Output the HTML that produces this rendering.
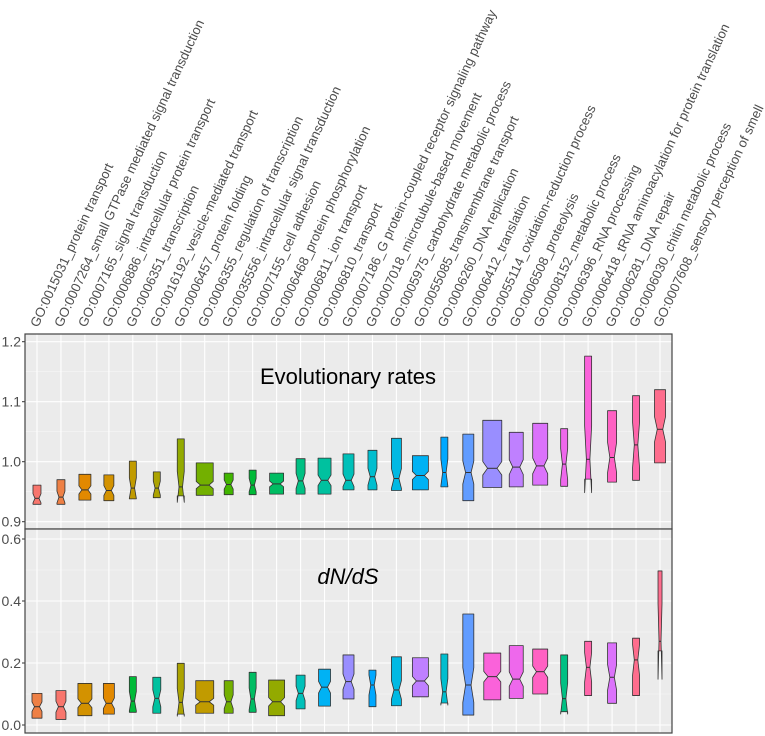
<!DOCTYPE html>
<html><head><meta charset="utf-8"><style>
html,body{margin:0;padding:0;background:#fff;}
svg{display:block;font-family:"Liberation Sans",Arial,sans-serif;}
</style></head><body>
<svg id="chart" width="765" height="736" viewBox="0 0 765 736"></svg>
<script>
const categories=["GO:0015031_protein transport","GO:0007264_small GTPase mediated signal transduction","GO:0007165_signal transduction","GO:0006886_intracellular protein transport","GO:0006351_transcription","GO:0016192_vesicle-mediated transport","GO:0006457_protein folding","GO:0006355_regulation of transcription","GO:0035556_intracellular signal transduction","GO:0007155_cell adhesion","GO:0006468_protein phosphorylation","GO:0006811_ion transport","GO:0006810_transport","GO:0007186_G protein-coupled receptor signaling pathway","GO:0007018_microtubule-based movement","GO:0005975_carbohydrate metabolic process","GO:0055085_transmembrane transport","GO:0006260_DNA replication","GO:0006412_translation","GO:0055114_oxidation-reduction process","GO:0006508_proteolysis","GO:0008152_metabolic process","GO:0006396_RNA processing","GO:0006418_tRNA aminoacylation for protein translation","GO:0006281_DNA repair","GO:0006030_chitin metabolic process","GO:0007608_sensory perception of smell"];
// Evolutionary rates panel
const rateQ1=[0.929,0.929,0.936,0.935,0.938,0.940,0.943,0.944,0.945,0.945,0.946,0.946,0.946,0.953,0.953,0.952,0.953,0.958,0.935,0.957,0.958,0.961,0.959,0.971,0.966,0.969,0.998];
const rateMed=[0.939,0.941,0.953,0.952,0.956,0.956,0.958,0.961,0.962,0.961,0.963,0.968,0.969,0.969,0.975,0.972,0.977,0.982,0.982,0.989,0.991,0.993,0.996,1.004,1.007,1.028,1.054];
const rateQ3=[0.961,0.970,0.979,0.978,1.001,0.983,1.038,0.998,0.981,0.986,0.981,1.005,1.006,1.013,1.019,1.039,1.010,1.041,1.046,1.069,1.049,1.064,1.055,1.176,1.085,1.110,1.120];
const rateWidth=[8,8,12,10,7,7,7,17,9,7,14,9,13,11,9,10,16,7,11,19,14,15,7,7,9,7,11];
const rateColor=[0,1,2,3,4,5,6,7,8,9,10,11,12,13,14,15,16,17,18,19,20,21,22,23,24,25,26];
// dN/dS panel
const dnQ1=[0.022,0.018,0.030,0.035,0.041,0.038,0.035,0.038,0.038,0.041,0.030,0.052,0.061,0.084,0.059,0.062,0.091,0.071,0.032,0.081,0.086,0.100,0.043,0.095,0.070,0.095,0.239];
const dnMed=[0.059,0.059,0.070,0.070,0.077,0.086,0.073,0.075,0.075,0.084,0.075,0.102,0.122,0.140,0.129,0.113,0.142,0.107,0.129,0.156,0.148,0.172,0.085,0.186,0.154,0.210,0.270];
const dnQ3=[0.102,0.111,0.134,0.134,0.156,0.154,0.199,0.143,0.143,0.170,0.145,0.161,0.180,0.226,0.177,0.220,0.217,0.229,0.358,0.232,0.256,0.245,0.226,0.270,0.265,0.280,0.497];
const dnWidth=[10,10,14,11,7,8,7,18,9,7,16,9,12,11,7,10,16,7,11,17,14,15,7,7,9,7,4];
const dnColor=[1,0,3,2,9,12,5,4,7,10,6,13,16,19,17,15,20,14,18,23,22,24,11,25,21,26,26];
const rateTicks=[0.9,1.0,1.1,1.2];
const rateTickLabels=["0.9","1.0","1.1","1.2"];
const rateMinor=[0.95,1.05,1.15];
const dnTicks=[0.0,0.2,0.4,0.6];
const dnTickLabels=["0.0","0.2","0.4","0.6"];
const dnMinor=[0.1,0.3,0.5];

const NS="http://www.w3.org/2000/svg";
const svg=document.getElementById('chart');
const PL=25,PR=672,TOP1=334,BOT1=529,TOP2=529,BOT2=733;
const band=(PR-PL)/categories.length;
function xPos(i){return PL+band*(i+0.5);}
function yRate(v){return 461.7-(v-1)*600;}
function yDn(v){return 725-v*310;}
function mk(tag,attrs,parent){const e=document.createElementNS(NS,tag);for(const k in attrs)e.setAttribute(k,attrs[k]);(parent||svg).appendChild(e);return e;}

function hcl(h,c,l){
  const hr=h*Math.PI/180;const U=c*Math.cos(hr),V=c*Math.sin(hr);
  const Xn=95.047,Yn=100,Zn=108.883;
  const un=4*Xn/(Xn+15*Yn+3*Zn),vn=9*Yn/(Xn+15*Yn+3*Zn);
  const Y=l>8?Yn*Math.pow((l+16)/116,3):Yn*l/903.3;
  const u=U/(13*l)+un,v=V/(13*l)+vn;
  const X=9*Y*u/(4*v),Z=-X/3-5*Y+3*Y/v;
  const x=X/100,y=Y/100,z=Z/100;
  let r=3.2406*x-1.5372*y-0.4986*z,g=-0.9689*x+1.8758*y+0.0415*z,b=0.0557*x-0.2040*y+1.0570*z;
  const f=t=>{t=t<=0.0031308?12.92*t:1.055*Math.pow(t,1/2.4)-0.055;return Math.max(0,Math.min(255,Math.round(t*255)));};
  return "rgb("+f(r)+","+f(g)+","+f(b)+")";
}
const palette=[];
for(let i=0;i<27;i++)palette.push(hcl(15+i*360/27,100,65));

function panel(top,bot,yf,ticks,tickLabels,minor,q1,med,q3,w,col,title,italic,tx,ty,pname){
  const g=mk('g',{});
  
  
  const bg=mk('rect',{x:PL,y:top,width:PR-PL,height:bot-top,fill:'#ebebeb'},g);
  
  
  minor.forEach(v=>{const l=mk('line',{x1:PL,x2:PR,y1:yf(v),y2:yf(v),stroke:'#f5f5f5','stroke-width':0.6},g);
    
    });
  ticks.forEach((v,i)=>{const y=yf(v);
    if(y>top&&y<bot){const l=mk('line',{x1:PL,x2:PR,y1:y,y2:y,stroke:'#fff','stroke-width':1.1},g);
      
      }
    const tk=mk('line',{x1:PL-3,x2:PL,y1:y,y2:y,stroke:'#333','stroke-width':1},g);
    
    
    const t=mk('text',{x:PL-4,y:y+5,'text-anchor':'end','font-size':14,fill:'#4d4d4d'},g);
    t.textContent=tickLabels[i];
    
    });
  categories.forEach((c,i)=>{const l=mk('line',{x1:xPos(i),x2:xPos(i),y1:top,y2:bot,stroke:'#fff','stroke-width':1.1},g);
    
    });
  const tt=mk('text',{x:tx,y:ty,'text-anchor':'middle','font-size':22,fill:'#000','font-style':italic?'italic':'normal'},g);
  tt.textContent=title;
  
  
  categories.forEach((c,i)=>{
    const cx=xPos(i),hw=w[i]/2,iqr=q3[i]-q1[i];
    const notch=1.9*iqr/w[i];
    const yq1=yf(q1[i]),yq3=yf(q3[i]),ym=yf(med[i]);
    const yn1=yf(med[i]-notch),yn2=yf(med[i]+notch);
    const d=`M${cx-hw},${yq3} L${cx+hw},${yq3} L${cx+hw},${yn2} L${cx+hw/2},${ym} L${cx+hw},${yn1} L${cx+hw},${yq1} L${cx-hw},${yq1} L${cx-hw},${yn1} L${cx-hw/2},${ym} L${cx-hw},${yn2} Z`;
    const p=mk('path',{d:d,fill:palette[col[i]],stroke:'#333','stroke-width':0.8,'stroke-linejoin':'round'},g);
    
    
    const ml=mk('line',{x1:cx-hw/2,x2:cx+hw/2,y1:ym,y2:ym,stroke:'#333','stroke-width':1},g);
    
    
  });
  const br=mk('rect',{x:PL,y:top,width:PR-PL,height:bot-top,fill:'none',stroke:'#444','stroke-width':1.2},g);
  
  
}
panel(TOP1,BOT1,yRate,rateTicks,rateTickLabels,rateMinor,rateQ1,rateMed,rateQ3,rateWidth,rateColor,"Evolutionary rates",false,348,384,'evolutionary-rates-panel');
panel(TOP2,BOT2,yDn,dnTicks,dnTickLabels,dnMinor,dnQ1,dnMed,dnQ3,dnWidth,dnColor,"dN/dS",true,348,584,'dnds-panel');

categories.forEach((c,i)=>{
  const x=xPos(i)+1,y=328;
  const t=mk('text',{x:x,y:y,transform:`rotate(-65 ${x} ${y})`,'font-size':13.2,fill:'#4d4d4d'});
  t.textContent=c;
  
  
});
</script>
</body></html>
